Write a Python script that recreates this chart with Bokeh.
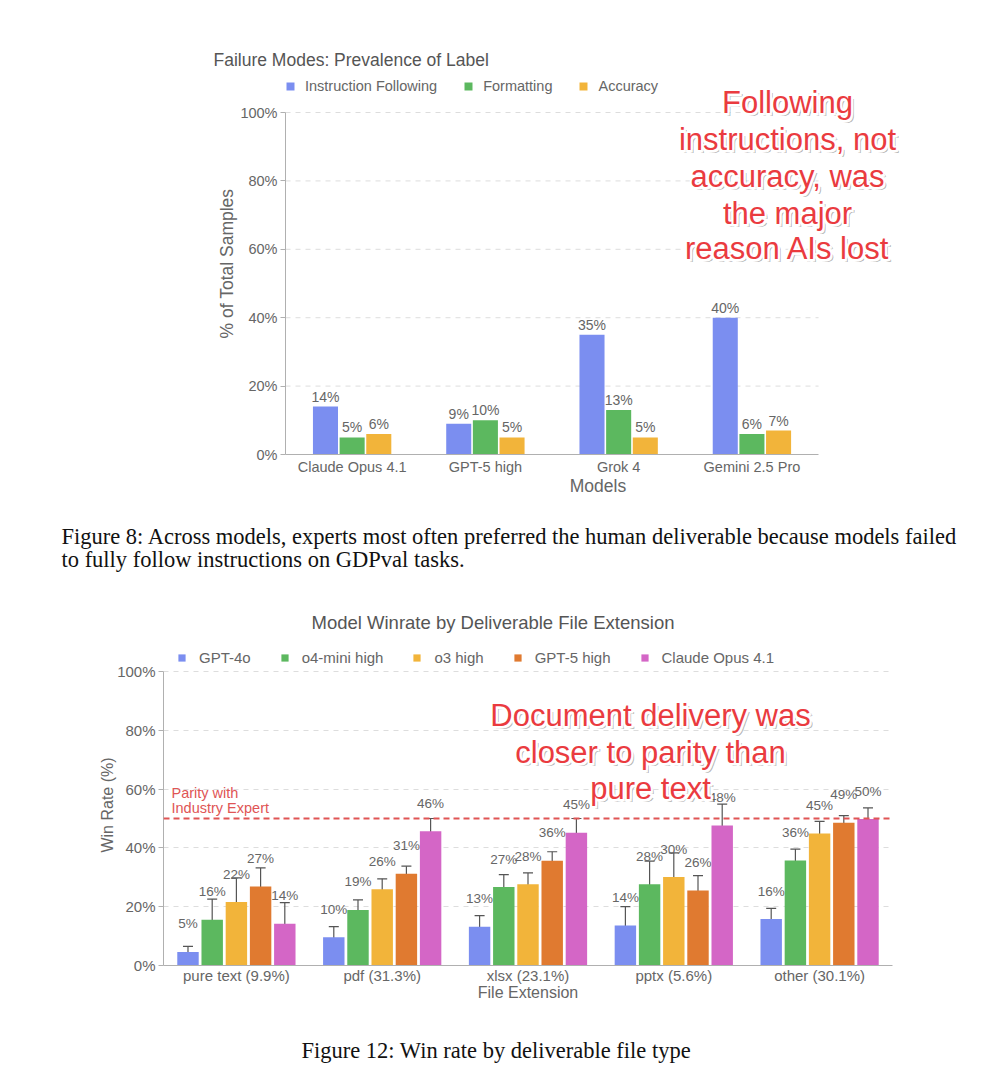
from bokeh.plotting import figure
from bokeh.models import (ColumnDataSource, FactorRange, Range1d, Legend, LegendItem,
                          Label, Span, Whisker, TeeHead, PrintfTickFormatter, FixedTicker)
from bokeh.transform import dodge
from bokeh.embed import file_html
from bokeh.resources import INLINE
from bokeh.core.properties import value

# ---------------- data: chart 1 (Figure 8) ----------------
fm_models = ["Claude Opus 4.1", "GPT-5 high", "Grok 4", "Gemini 2.5 Pro"]
fm_series = ["Instruction Following", "Formatting", "Accuracy"]
fm_instruction = [14, 9, 35, 40]
fm_formatting = [5, 10, 13, 6]
fm_accuracy = [6, 5, 5, 7]
fm_yticks = [0, 20, 40, 60, 80, 100]

# ---------------- data: chart 2 (Figure 12) ----------------
ext_categories = ["pure text (9.9%)", "pdf (31.3%)", "xlsx (23.1%)", "pptx (5.6%)", "other (30.1%)"]
wr_models = ["GPT-4o", "o4-mini high", "o3 high", "GPT-5 high", "Claude Opus 4.1"]
wr_gpt4o = [4.6, 9.6, 13.2, 13.6, 15.8]
wr_gpt4o_lo = [3.3, 7.3, 10.2, 8.8, 12.8]
wr_gpt4o_hi = [6.5, 13.2, 17.0, 20.0, 19.4]
wr_o4mini = [15.6, 18.9, 26.7, 27.6, 35.7]
wr_o4mini_lo = [10.5, 16.2, 23.5, 20.6, 31.9]
wr_o4mini_hi = [22.6, 22.3, 30.9, 35.5, 39.6]
wr_o3 = [21.6, 25.9, 27.6, 30.1, 44.9]
wr_o3_lo = [15.4, 22.9, 24.0, 23.2, 40.9]
wr_o3_hi = [29.8, 29.5, 31.5, 38.3, 49.0]
wr_gpt5 = [26.9, 31.2, 35.6, 25.5, 48.6]
wr_gpt5_lo = [21.5, 28.6, 32.6, 20.6, 45.8]
wr_gpt5_hi = [33.2, 33.8, 38.7, 30.6, 51.0]
wr_claude = [14.2, 45.7, 45.2, 47.6, 49.8]
wr_claude_lo = [9.2, 41.9, 40.6, 40.3, 46.0]
wr_claude_hi = [21.4, 50.0, 50.0, 54.9, 53.6]
wr_parity = 50
wr_yticks = [0, 20, 40, 60, 80, 100]

caption8 = ["Figure 8: Across models, experts most often preferred the human deliverable because models failed",
            "to fully follow instructions on GDPval tasks."]
caption12 = ["Figure 12: Win rate by deliverable file type"]

FONT = "Liberation Sans"
SERIF = "Liberation Serif"
GRAY = "#666666"
RED = "#ea3b3f"
PARITY_RED = "#e05555"

HAS_OUTLINE = "text_outline_color" in Label.properties()


def callout(p, x, y, txt):
    base = dict(x_units="screen", y_units="screen", text=txt,
                text_align="center", text_baseline="middle", text_font=FONT,
                text_font_size="31px")
    # soft drop shadow
    p.add_layout(Label(x=x + 3, y=y - 3, text_color="#000000", text_alpha=0.28, **base))
    # white halo
    for dx, dy in [(0, 0), (-1.5, -1.5), (1.5, 1.5), (-1.5, 1.5), (1.5, -1.5)]:
        kw = dict(base)
        if HAS_OUTLINE:
            kw["text_outline_color"] = "white"
        p.add_layout(Label(x=x + dx, y=y + dy, text_color="white", **kw))
    # red text on top
    p.add_layout(Label(x=x, y=y, text_color=RED, **base))


def style_axes(p, tick_size, label_size):
    for ax in (p.xaxis[0], p.yaxis[0]):
        ax.axis_line_color = "#b0b0b0"
        ax.major_label_text_color = GRAY
        ax.major_label_text_font = FONT
        ax.major_label_text_font_size = tick_size
        ax.axis_label_text_color = GRAY
        ax.axis_label_text_font = FONT
        ax.axis_label_text_font_size = label_size
        ax.axis_label_text_font_style = "normal"
        ax.minor_tick_line_color = None
    p.xaxis.major_tick_line_color = None
    p.xaxis.major_tick_out = 0
    p.xaxis.major_tick_in = 0
    p.yaxis.major_tick_line_color = "#b0b0b0"
    p.yaxis.major_tick_out = 5
    p.yaxis.major_tick_in = 0
    p.yaxis.bounds = (0, 100)
    p.xgrid.grid_line_color = None
    p.outline_line_color = None
    p.title.align = "left"
    p.title.text_font = FONT
    p.title.text_font_style = "normal"
    p.title.text_color = "#555555"


def caption_fig(lines, height, x, ys):
    c = figure(width=1008, height=height, frame_width=1008, frame_height=height,
               x_range=Range1d(0, 1), y_range=Range1d(0, 1),
               x_axis_location=None, y_axis_location=None, min_border=0,
               output_backend="svg", toolbar_location=None)
    c.grid.grid_line_color = None
    c.outline_line_color = None
    for line, yy in zip(lines, ys):
        c.add_layout(Label(x=x, y=yy, x_units="screen", y_units="screen", text=line,
                           text_align="left", text_baseline="middle", text_font=SERIF,
                           text_font_size="22.5px", text_color="#111111"))
    return c


# ================= Chart 1 =================
fm_x = list(range(len(fm_models)))
p1 = figure(x_range=Range1d(-0.5, 4.19), y_range=Range1d(0, 111.7),
            width=1008, height=505, frame_width=625, frame_height=382,
            min_border_left=285, min_border_right=98, min_border_top=72, min_border_bottom=51,
            output_backend="svg", toolbar_location=None,
            title="Failure Modes: Prevalence of Label")
style_axes(p1, "14.5px", "17.5px")
p1.title.offset = -72
p1.title.standoff = 6
p1.title.text_font_size = "17.5px"
p1.ygrid.grid_line_color = None
p1.xaxis.ticker = FixedTicker(ticks=fm_x)
p1.xaxis.major_label_overrides = {i: m for i, m in zip(fm_x, fm_models)}
p1.xaxis.bounds = (-0.5, len(fm_models) - 0.5)
p1.yaxis.ticker = FixedTicker(ticks=fm_yticks)
p1.yaxis.formatter = PrintfTickFormatter(format="%d%%")
p1.yaxis.major_label_standoff = 3
p1.yaxis.axis_label = "% of Total Samples"
p1.yaxis.axis_label_standoff = 0
p1.xaxis.axis_label = "Models"
p1.xaxis.major_label_standoff = 4
p1.xaxis.axis_label_standoff = -2

# dashed horizontal guides spanning the category area only
grid_src = ColumnDataSource(dict(y=fm_yticks[1:]))
p1.segment(x0=-0.5, x1=len(fm_models) - 0.5, y0="y", y1="y", source=grid_src,
           line_color="#dddddd", line_dash="5 5", line_width=1)

fm_colors = ["#7b8ef0", "#5cb85f", "#f2b43a"]
fm_values = [fm_instruction, fm_formatting, fm_accuracy]
fm_offsets = [-0.2, 0.0, 0.2]
items1 = []
for name, vals, col, off in zip(fm_series, fm_values, fm_colors, fm_offsets):
    src = ColumnDataSource(dict(xi=fm_x, val=vals, lab=[f"{v}%" for v in vals]))
    r = p1.vbar(x=dodge("xi", off), top="val", width=0.188,
                source=src, fill_color=col, line_color=None)
    p1.text(x=dodge("xi", off), y="val", text="lab", source=src,
            text_align="center", text_baseline="middle", y_offset=-10,
            text_font=value(FONT), text_font_size="14px", text_color=GRAY)
    items1.append(LegendItem(label=name, renderers=[r]))

leg1 = Legend(items=items1, location=(0, 360), orientation="horizontal",
              glyph_width=10, glyph_height=10, label_standoff=10, spacing=26,
              padding=0, margin=0, border_line_color=None, background_fill_alpha=0,
              label_text_font=FONT, label_text_font_size="14.5px", label_text_color=GRAY)
p1.add_layout(leg1, "center")

for line, yy in zip(["Following", "instructions, not", "accuracy, was", "the major", "reason AIs lost"],
                    [352, 315, 278, 241, 206]):
    callout(p1, 502, yy, line)

c1 = caption_fig(caption8, 75, 61, [44, 21.5])

# ================= Chart 2 =================
p2 = figure(x_range=FactorRange(factors=ext_categories), y_range=Range1d(0, 109.2),
            width=1008, height=430, frame_width=729, frame_height=321,
            min_border_left=163, min_border_right=116, min_border_top=64, min_border_bottom=45,
            output_backend="svg", toolbar_location=None,
            title="Model Winrate by Deliverable File Extension")
style_axes(p2, "15px", "16px")
p2.title.offset = 148
p2.title.standoff = 23
p2.title.text_font_size = "18.5px"
p2.ygrid.grid_line_color = "#dddddd"
p2.ygrid.grid_line_dash = "5 5"
p2.yaxis.ticker = FixedTicker(ticks=wr_yticks)
p2.yaxis.formatter = PrintfTickFormatter(format="%d%%")
p2.yaxis.major_label_standoff = 3
p2.yaxis.axis_label = "Win Rate (%)"
p2.yaxis.axis_label_standoff = -2
p2.xaxis.axis_label = "File Extension"
p2.xaxis.major_label_standoff = 1
p2.xaxis.axis_label_standoff = -3

wr_colors = ["#7b8ef0", "#5cb85f", "#f2b43a", "#e07a30", "#d466c6"]
wr_vals = [wr_gpt4o, wr_o4mini, wr_o3, wr_gpt5, wr_claude]
wr_los = [wr_gpt4o_lo, wr_o4mini_lo, wr_o3_lo, wr_gpt5_lo, wr_claude_lo]
wr_his = [wr_gpt4o_hi, wr_o4mini_hi, wr_o3_hi, wr_gpt5_hi, wr_claude_hi]
wr_offsets = [-0.332, -0.166, 0.0, 0.166, 0.332]
items2 = []
for name, vals, lo, hi, col, off in zip(wr_models, wr_vals, wr_los, wr_his, wr_colors, wr_offsets):
    src = ColumnDataSource(dict(cat=ext_categories, val=vals, lo=lo, hi=hi,
                                lab=[f"{round(v)}%" for v in vals]))
    r = p2.vbar(x=dodge("cat", off, range=p2.x_range), top="val", width=0.147,
                source=src, fill_color=col, line_color=None)
    items2.append(LegendItem(label=name, renderers=[r]))
    w = Whisker(base=dodge("cat", off, range=p2.x_range), upper="hi", lower="lo", source=src,
                line_color="#555555", line_width=1.2,
                upper_head=TeeHead(size=10, line_color="#555555", line_width=1.2),
                lower_head=TeeHead(size=10, line_color="#555555", line_width=1.2))
    p2.add_layout(w)
    p2.text(x=dodge("cat", off, range=p2.x_range), y="val", text="lab", source=src,
            text_align="center", text_baseline="middle", y_offset=-28,
            text_font=value(FONT), text_font_size="13.5px", text_color=GRAY)

p2.add_layout(Span(location=wr_parity, dimension="width", line_color=PARITY_RED,
                   line_dash="6 4", line_width=1.8))
p2.add_layout(Label(x=8, y=173, x_units="screen", y_units="screen", text="Parity with",
                    text_align="left", text_baseline="middle", text_font=FONT,
                    text_font_size="14.5px", text_color=PARITY_RED))
p2.add_layout(Label(x=8, y=158, x_units="screen", y_units="screen", text="Industry Expert",
                    text_align="left", text_baseline="middle", text_font=FONT,
                    text_font_size="14.5px", text_color=PARITY_RED))

leg2 = Legend(items=items2, location=(14, 299), orientation="horizontal",
              glyph_width=9, glyph_height=9, label_standoff=13, spacing=29,
              padding=0, margin=0, border_line_color=None, background_fill_alpha=0,
              label_text_font=FONT, label_text_font_size="15px", label_text_color=GRAY)
p2.add_layout(leg2, "center")

for line, yy in zip(["Document delivery was", "closer to parity than", "pure text"], [250, 213, 177]):
    callout(p2, 487, yy, line)

c2 = caption_fig(caption12, 80, 301, [40])

open("out.html", "w").write(file_html([p1, c1, p2, c2], INLINE))
